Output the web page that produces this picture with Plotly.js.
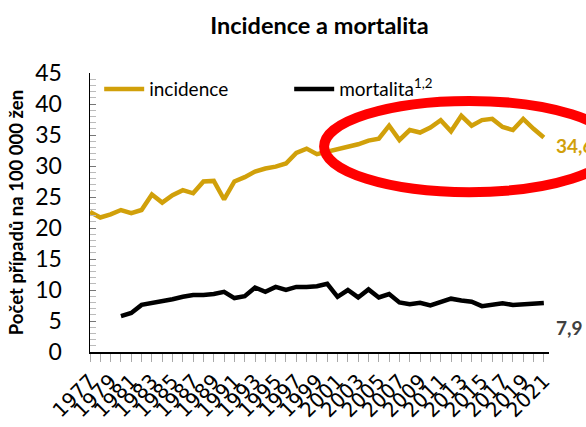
<!DOCTYPE html>
<html>
<head>
<meta charset="utf-8">
<script src="https://cdn.plot.ly/plotly-3.0.1.min.js"></script>
<style>
  html, body { margin: 0; padding: 0; background: #fff; }
  #chart { width: 586px; height: 427px; }
</style>
</head>
<body>
<div id="chart"></div>
<script>
// Roky 1977-2021
const years = [1977, 1978, 1979, 1980, 1981, 1982, 1983, 1984, 1985, 1986,
               1987, 1988, 1989, 1990, 1991, 1992, 1993, 1994, 1995, 1996,
               1997, 1998, 1999, 2000, 2001, 2002, 2003, 2004, 2005, 2006,
               2007, 2008, 2009, 2010, 2011, 2012, 2013, 2014, 2015, 2016,
               2017, 2018, 2019, 2020, 2021];

// Incidence na 100 000 žen
const incidence = [22.6, 21.7, 22.2, 22.9, 22.4, 22.9, 25.4, 24.1, 25.3, 26.1,
                   25.6, 27.5, 27.6, 24.6, 27.5, 28.2, 29.1, 29.6, 29.9, 30.4,
                   32.1, 32.8, 31.9, 32.3, 32.6, 33.0, 33.5, 34.1, 34.4, 36.5,
                   34.2, 35.8, 35.4, 36.2, 37.4, 35.6, 38.1, 36.5, 37.4, 37.6,
                   36.3, 35.8, 37.6, 36.0, 34.6];

// Mortalita (data od roku 1980)
const mortalita = [null, null, null, 5.8, 6.3, 7.6, 7.9, 8.1, 8.5, 8.9,
                   9.2, 9.2, 9.35, 9.7, 8.7, 9.0, 10.4, 9.7, 10.5, 10.0,
                   10.5, 10.5, 10.6, 11.0, 8.9, 10.0, 8.8, 10.1, 8.8, 9.35,
                   8.0, 7.7, 7.95, 7.5, 8.1, 8.6, 8.3, 8.1, 7.4, 7.6,
                   7.85, 7.6, 7.7, 7.85, 7.9];

const labelYears = [1977, 1979, 1981, 1983, 1985, 1987, 1989, 1991, 1993, 1995,
                    1997, 1999, 2001, 2003, 2005, 2007, 2009, 2011, 2013, 2015,
                    2017, 2019, 2021];

const endLabels = ['34,6', '7,9'];

const gold = '#D1A00A';
const fontMain = 'Lato, "Open Sans", sans-serif';

const data = [
    {
        x: years,
        y: incidence,
        type: 'scatter',
        mode: 'lines',
        name: 'incidence',
        line: { color: gold, width: 4.5 }
    },
    {
        x: years,
        y: mortalita,
        type: 'scatter',
        mode: 'lines',
        name: 'mortalita<sup>1,2</sup>',
        line: { color: '#000000', width: 4.5 }
    }
];

const last = years.length - 1;

const layout = {
    width: 586,
    height: 427,
    paper_bgcolor: '#fff',
    plot_bgcolor: '#fff',
    margin: { l: 90, r: 37, t: 73, b: 75 },
    font: { family: fontMain, color: '#000' },
    title: {
        text: '<b>Incidence a mortalita</b>',
        font: { size: 23.5, family: fontMain, color: '#000' },
        x: 0.5, xref: 'paper', xanchor: 'center',
        y: 0.94, yanchor: 'middle'
    },
    showlegend: true,
    legend: {
        orientation: 'h',
        x: 0.02, y: 1.01, yanchor: 'top',
        font: { size: 19, family: fontMain, color: '#000' },
        bgcolor: 'rgba(0,0,0,0)',
        itemwidth: 40,
        entrywidth: 135,
        entrywidthmode: 'pixels',
        tracegroupgap: 0
    },
    xaxis: {
        range: [1977, 2021.5],
        tickvals: labelYears,
        ticktext: labelYears.map(String),
        tickangle: -45,
        tickfont: { size: 20, family: '"DejaVu Sans", sans-serif', color: '#000' },
        ticks: 'outside',
        ticklen: 8,
        tickcolor: '#aaa',
        minor: { dtick: 1, tick0: 1977, ticks: 'outside', ticklen: 8, tickcolor: '#aaa' },
        showline: true,
        linecolor: '#000',
        linewidth: 1.5,
        showgrid: false,
        zeroline: false,
        fixedrange: true
    },
    yaxis: {
        range: [0, 45],
        dtick: 5,
        tickfont: { size: 23, family: fontMain, color: '#000' },
        ticks: 'inside',
        ticklen: 6,
        tickcolor: '#777',
        ticklabelstandoff: 22,
        minor: { dtick: 1, ticks: 'inside', ticklen: 6, tickcolor: '#bbb' },
        showline: true,
        linecolor: '#000',
        linewidth: 1.5,
        showgrid: false,
        zeroline: false,
        title: {
            text: '<b>Počet případů na 100 000 žen</b>',
            font: { size: 18.5, family: fontMain, color: '#000' },
            standoff: 6
        },
        fixedrange: true
    },
    annotations: [
        {
            x: years[last], y: incidence[last],
            xref: 'x', yref: 'y',
            text: '<b>' + endLabels[0] + '</b>',
            showarrow: false,
            xanchor: 'left', yanchor: 'middle',
            xshift: 10, yshift: -8,
            font: { size: 19, family: fontMain, color: gold }
        },
        {
            x: years[last], y: mortalita[last],
            xref: 'x', yref: 'y',
            text: '<b>' + endLabels[1] + '</b>',
            showarrow: false,
            xanchor: 'left', yanchor: 'middle',
            xshift: 10, yshift: -24,
            font: { size: 19, family: fontMain, color: '#404040' }
        }
    ],
    shapes: [
        {
            type: 'circle',
            xref: 'paper', yref: 'paper',
            x0: 0.51, x1: 1.142,
            y0: 0.573, y1: 0.9,
            line: { color: '#FF0000', width: 10 },
            fillcolor: 'rgba(0,0,0,0)',
            layer: 'above'
        }
    ]
};

const config = { responsive: false, displayModeBar: false, staticPlot: true };

Plotly.newPlot('chart', data, layout, config);
</script>
</body>
</html>
